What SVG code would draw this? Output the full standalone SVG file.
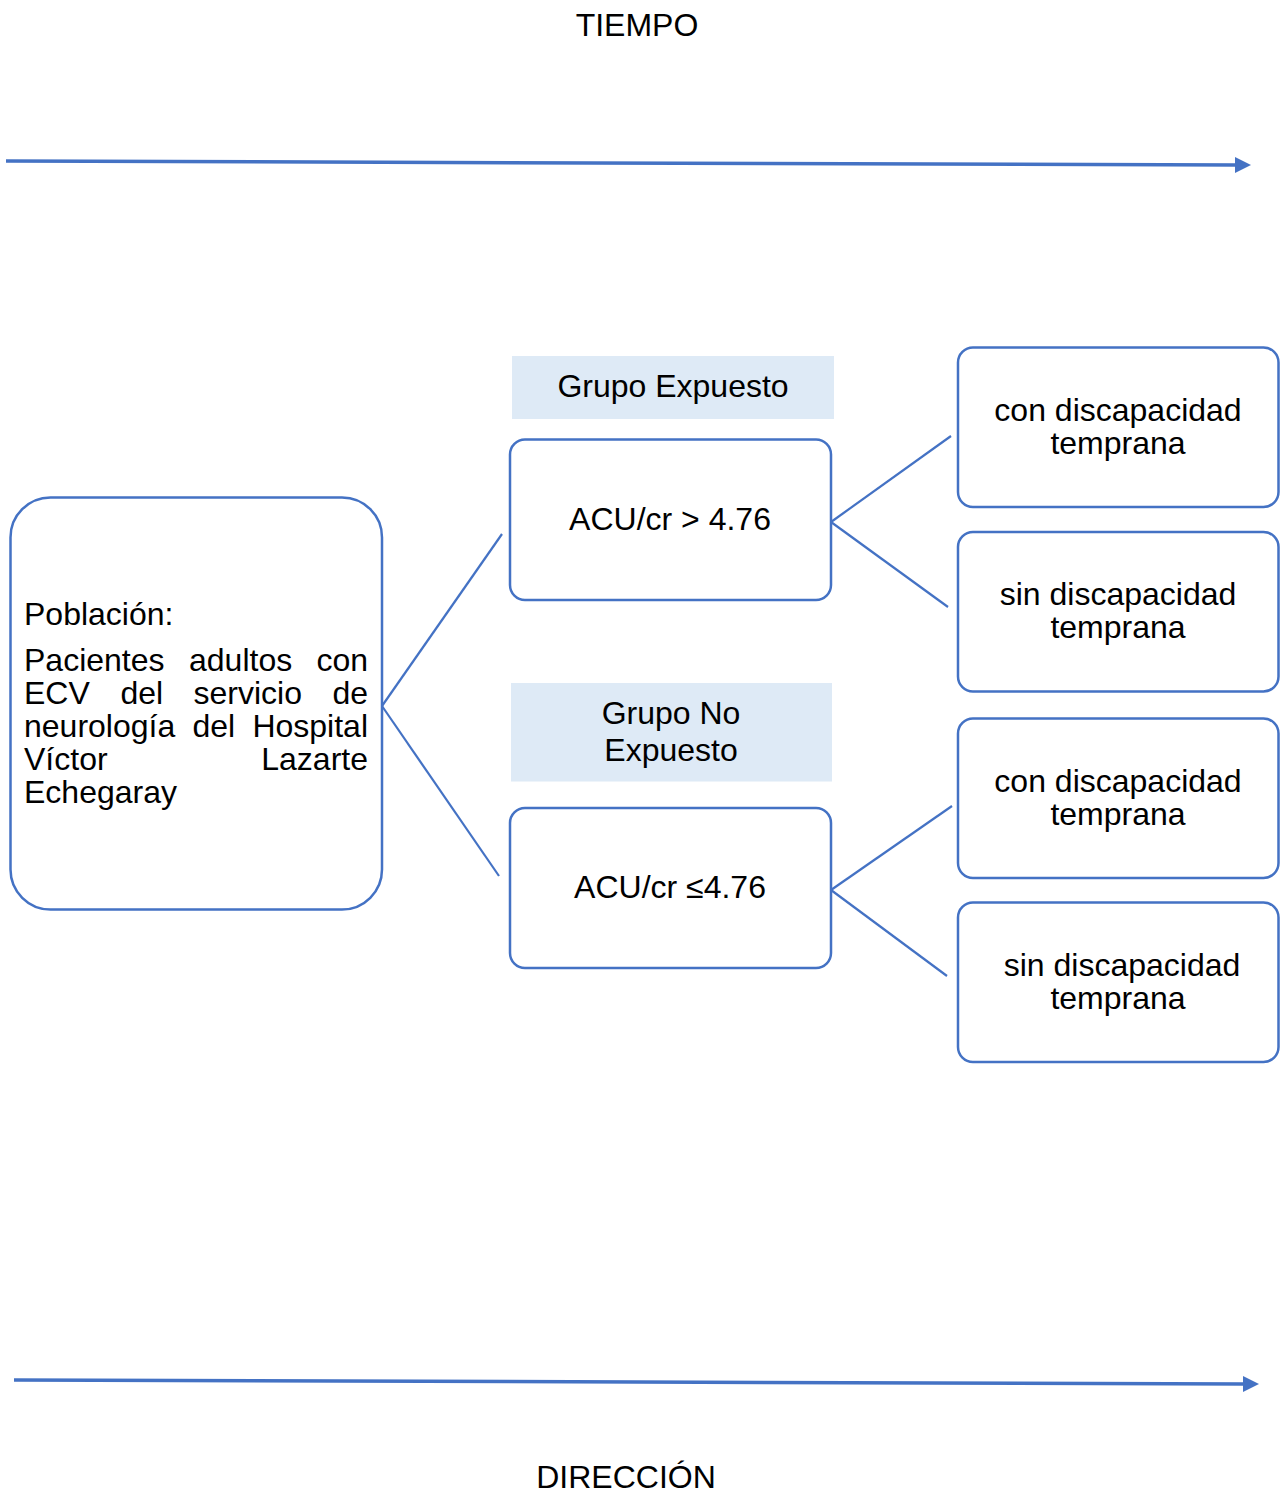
<svg xmlns="http://www.w3.org/2000/svg" width="1280" height="1493" viewBox="0 0 1280 1493">
<style>
text{font-family:"Liberation Sans",Arial,sans-serif;font-size:32px;fill:#000}
.c{text-anchor:middle}
.e{text-anchor:end}
.box{fill:#fff;stroke:#4472C4;stroke-width:2.5}
.lab{fill:#DEEAF6}
.ln{stroke:#4472C4;stroke-width:2.2;fill:none}
.ax{stroke:#4472C4;stroke-width:3.5;fill:none}
.ah{fill:#4472C4}
</style>
<rect width="1280" height="1493" fill="#fff"/>
<g id="axis-tiempo">
<text class="c" x="637" y="36">TIEMPO</text>
<line class="ax" x1="6" y1="161" x2="1237" y2="165"/>
<polygon class="ah" points="1235,157 1251,165 1235,173"/>
</g>
<g id="axis-direccion">
<line class="ax" x1="14" y1="1380" x2="1245" y2="1384"/>
<polygon class="ah" points="1243,1376 1259,1384 1243,1392"/>
<text class="c" x="626" y="1488">DIRECCIÓN</text>
</g>
<g id="connectors">
<line class="ln" x1="382" y1="706" x2="502" y2="534"/>
<line class="ln" x1="382" y1="706" x2="499" y2="876"/>
<line class="ln" x1="831" y1="522" x2="951" y2="436"/>
<line class="ln" x1="831" y1="522" x2="948" y2="607"/>
<line class="ln" x1="831" y1="890" x2="952" y2="806"/>
<line class="ln" x1="831" y1="890" x2="947" y2="976"/>
</g>
<g id="poblacion">
<rect class="box" x="10.5" y="497.5" width="371.5" height="412" rx="40"/>
<text x="24" y="625">Población:</text>
<text x="24" y="671">Pacientes</text><text x="189" y="671">adultos</text><text class="e" x="368" y="671">con</text>
<text x="24" y="704">ECV</text><text x="120.5" y="704">del</text><text x="193.5" y="704">servicio</text><text class="e" x="368" y="704">de</text>
<text x="24" y="737">neurología</text><text x="192.5" y="737">del</text><text class="e" x="368" y="737">Hospital</text>
<text x="24" y="770">Víctor</text><text class="e" x="368" y="770">Lazarte</text>
<text x="24" y="803">Echegaray</text>
</g>
<g id="grupo-expuesto">
<rect class="lab" x="512" y="356" width="322" height="63"/>
<text class="c" x="673" y="397">Grupo Expuesto</text>
</g>
<g id="acu-mayor">
<rect class="box" x="510" y="439.5" width="321" height="160.5" rx="15"/>
<text class="c" x="670" y="530">ACU/cr &gt; 4.76</text>
</g>
<g id="grupo-no-expuesto">
<rect class="lab" x="511" y="683" width="321" height="98.5"/>
<text class="c" x="671" y="724">Grupo No</text>
<text class="c" x="671" y="761">Expuesto</text>
</g>
<g id="acu-menor">
<rect class="box" x="510" y="808" width="321" height="160" rx="15"/>
<text class="c" x="670" y="898">ACU/cr ≤4.76</text>
</g>
<g id="con-1">
<rect class="box" x="958" y="347.5" width="320.5" height="159.5" rx="15"/>
<text class="c" x="1118" y="421">con discapacidad</text>
<text class="c" x="1118" y="454">temprana</text>
</g>
<g id="sin-1">
<rect class="box" x="958" y="532" width="320.5" height="159.5" rx="15"/>
<text class="c" x="1118" y="605">sin discapacidad</text>
<text class="c" x="1118" y="638">temprana</text>
</g>
<g id="con-2">
<rect class="box" x="958" y="718.5" width="320.5" height="159.5" rx="15"/>
<text class="c" x="1118" y="792">con discapacidad</text>
<text class="c" x="1118" y="825">temprana</text>
</g>
<g id="sin-2">
<rect class="box" x="958" y="902.5" width="320.5" height="159.5" rx="15"/>
<text class="c" x="1122" y="976">sin discapacidad</text>
<text class="c" x="1118" y="1009">temprana</text>
</g>
</svg>
